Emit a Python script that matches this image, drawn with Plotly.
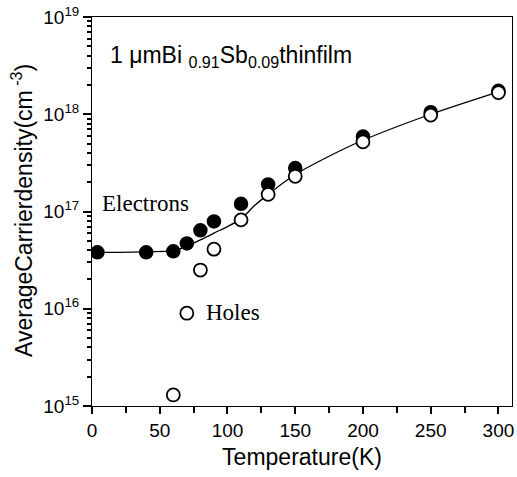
import plotly.graph_objects as go

# Data
temp_e = [4, 40, 60, 70, 80, 90, 110, 130, 150, 200, 250, 300]
dens_e = [3.8e16, 3.8e16, 3.9e16, 4.7e16, 6.4e16, 7.9e16, 1.2e17, 1.9e17, 2.8e17, 5.9e17, 1.05e18, 1.74e18]

temp_h = [60, 70, 80, 90, 110, 130, 150, 200, 250, 300]
dens_h = [1.3e15, 9.0e15, 2.5e16, 4.1e16, 8.2e16, 1.5e17, 2.3e17, 5.2e17, 9.8e17, 1.67e18]

temp_fit = [0, 20, 40, 60, 70, 80, 90, 100, 110, 120, 130, 150, 175, 200, 250, 300]
dens_fit = [3.8e16, 3.8e16, 3.85e16, 3.95e16, 4.4e16, 5.1e16, 6.0e16, 7.0e16, 8.4e16, 1.15e17,
            1.5e17, 2.4e17, 3.7e17, 5.4e17, 1.0e18, 1.7e18]

x_ticks = [0, 50, 100, 150, 200, 250, 300]
x_minor = [25, 75, 125, 175, 225, 275]
y_exponents = [15, 16, 17, 18, 19]
y_ticks = [10.0 ** e for e in y_exponents]
y_ticktext = ["10<sup>%d</sup>" % e for e in y_exponents]
y_minor = [m * 10.0 ** e for e in y_exponents[:-1] for m in range(2, 10)]

W, H = 517, 477
L, R, T, B = 92, 5, 17, 71
pw = W - L - R
ph = H - T - B

def px(x):
    return (x - L) / pw

def py(y):
    return 1 - (y - T) / ph

fig = go.Figure()
fig.add_trace(go.Scatter(x=temp_fit, y=dens_fit, mode="lines", yaxis="y",
                         line=dict(color="black", width=1.3, shape="spline", smoothing=0.8),
                         showlegend=False, hoverinfo="skip"))
fig.add_trace(go.Scatter(x=temp_e, y=dens_e, mode="markers", name="Electrons", yaxis="y",
                         marker=dict(symbol="circle", size=13, color="black",
                                     line=dict(color="black", width=1.5)),
                         showlegend=False))
fig.add_trace(go.Scatter(x=temp_h, y=dens_h, mode="markers", name="Holes", yaxis="y2",
                         marker=dict(symbol="circle", size=13, color="white",
                                     line=dict(color="black", width=1.8)),
                         showlegend=False))

font_sans = "Liberation Sans, Arial, sans-serif"
font_serif = "Liberation Serif, Times New Roman, serif"

fig.update_layout(
    template="simple_white",
    width=W, height=H,
    margin=dict(l=L, r=R, t=T, b=B, autoexpand=False),
    paper_bgcolor="white", plot_bgcolor="white",
    font=dict(family=font_sans, color="black", size=19),
    xaxis=dict(
        range=[0, 310], tickvals=x_ticks, ticks="outside", ticklen=7, tickwidth=2,
        tickcolor="black", showline=True, linecolor="black", linewidth=1.3, mirror=True,
        showgrid=False, zeroline=False, tickfont=dict(size=19, family=font_sans, color="black"),
        automargin=False,
        minor=dict(tickvals=x_minor, ticks="outside", ticklen=6, tickwidth=2,
                   tickcolor="black", showgrid=False),
        title=dict(text="Temperature(K)", font=dict(size=23, family=font_sans, color="black"),
                   standoff=8),
    ),
    # minor ticks only
    yaxis=dict(
        type="log", range=[15, 19], tickvals=y_minor, showticklabels=False,
        ticks="outside", ticklen=4, tickwidth=1.5, tickcolor="black",
        showline=True, linecolor="black", linewidth=1.3, mirror=True,
        showgrid=False, zeroline=False, automargin=False,
    ),
    # major ticks with labels
    yaxis2=dict(
        type="log", range=[15, 19], overlaying="y", side="left", anchor="x",
        tickvals=y_ticks, ticktext=y_ticktext,
        ticks="outside", ticklen=8, tickwidth=2, tickcolor="black",
        showline=False, showgrid=False, zeroline=False, automargin=False,
        tickfont=dict(size=19, family=font_sans, color="black"),
    ),
)

fig.add_annotation(text="AverageCarrierdensity(cm<sup> -3</sup>)", textangle=-90,
                   xref="paper", yref="paper", x=px(22), y=py(211),
                   xanchor="center", yanchor="middle", showarrow=False,
                   font=dict(size=23, family=font_sans, color="black"))
fig.add_annotation(text="1 \u03bcmBi <sub>0.91</sub>Sb<sub>0.09</sub>thinfilm",
                   xref="paper", yref="paper", x=px(108), y=py(56),
                   xanchor="left", yanchor="middle", showarrow=False,
                   font=dict(size=23, family=font_sans, color="black"))
fig.add_annotation(text="Electrons", xref="paper", yref="paper", x=px(145), y=py(203),
                   xanchor="center", yanchor="middle", showarrow=False,
                   font=dict(size=23, family=font_serif, color="black"))
fig.add_annotation(text="Holes", xref="paper", yref="paper", x=px(233), y=py(312),
                   xanchor="center", yanchor="middle", showarrow=False,
                   font=dict(size=23, family=font_serif, color="black"))

fig.write_html("out.html", config={"displayModeBar": False},
               post_script="document.body.style.margin='0';document.body.style.overflow='hidden';")
